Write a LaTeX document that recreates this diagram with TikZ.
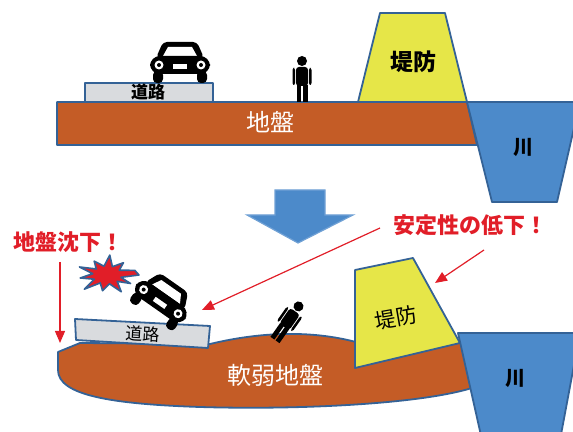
\documentclass[tikz,border=0pt]{standalone}
\usepackage{fontspec}
\newfontfamily\jp{Noto Sans CJK JP}
\usetikzlibrary{arrows.meta}

\definecolor{soil}{RGB}{196,92,38}
\definecolor{rim}{RGB}{52,98,150}
\definecolor{water}{RGB}{76,138,202}
\definecolor{bank}{RGB}{230,230,72}
\definecolor{pave}{RGB}{217,219,222}
\definecolor{alarm}{RGB}{225,30,40}

\tikzset{
  pics/car/.style={code={
    \fill[rounded corners=2] (-17,-21) -- (17,-21) -- (24,-5) -- (-24,-5) -- cycle;
    \fill[white] (-12,-16) -- (12,-16) -- (17,-7) -- (-17,-7) -- cycle;
    \fill[rounded corners=5] (-30,-7) rectangle (30,11);
    \fill[rounded corners=2] (-27,8) rectangle (-17,20);
    \fill[rounded corners=2] (17,8) rectangle (27,20);
    \fill[white] (-21,2) circle (4.5) (21,2) circle (4.5);
    \fill (-21,2) circle (2) (21,2) circle (2);
    \fill[white] (-7,1) rectangle (7,6);
  }},
  pics/person/.style={code={
    \fill (0,-41) circle (5);
    \fill[rounded corners=1.5] (-6,-35) rectangle (6,-16);
    \fill[rounded corners=1] (-9.5,-34) rectangle (-7,-17);
    \fill[rounded corners=1] (7,-34) rectangle (9.5,-17);
    \fill (-5.5,-17) rectangle (-0.7,0);
    \fill (0.7,-17) rectangle (5.5,0);
  }}
}

\begin{document}
\begin{tikzpicture}[x=0.5pt,y=-0.5pt,
  edge/.style={draw=rim,line width=0.9pt,line join=round},
  darklbl/.style={font=\jp\bfseries\fontsize{#1}{#1}\selectfont,text=black},
  soillbl/.style={font=\jp\fontsize{12}{12}\selectfont,text=white},
  redlbl/.style={font=\jp\bfseries\fontsize{11}{11}\selectfont,text=alarm},
  alert/.style={draw=alarm,line width=0.6pt,-{Triangle[length=6pt,width=5pt]}}]
\useasboundingbox (0,0) rectangle (573,432);

% Before: road, ground, levee and river
\fill[soil,edge] (57,102) -- (467,102) -- (477,145) -- (57,145) -- cycle;
\fill[pave,edge] (85,83) rectangle (213,102);
\fill[bank,edge] (380,13) -- (445,13) -- (467,102) -- (358,102) -- cycle;
\fill[water,edge] (467,102) -- (580,102) -- (557,202) -- (492,202) -- cycle;
\pic at (180,63) {car};
\pic at (302,102) {person};

\node[darklbl=8.5] (road1) at (148,92) {道路};
\node[soillbl] (soil1) at (270,122) {地盤};
\node[darklbl=11.5] (bank1) at (413,62) {堤防};
\node[darklbl=10] (river1) at (523,147) {川};

% Block arrow between the two states
\fill[water,draw=water!80!white,line width=0.6pt]
  (275,190) -- (325,190) -- (325,215) -- (353,215) -- (298,243)
  -- (247,215) -- (275,215) -- cycle;

% After: soft ground sinking
\fill[soil,edge] (58,352) -- (80,343) -- (210,344)
  .. controls (260,332) and (310,330) .. (356,342) -- (460,340)
  -- (472,388) .. controls (420,404) and (300,410) .. (200,407)
  .. controls (110,404) and (58,395) .. (58,370) -- cycle;
\fill[pave,edge] (75,319) -- (210,326) -- (208,348) -- (76,340) -- cycle;
\fill[bank,edge] (355,270) -- (413,258) -- (460,343) -- (355,368) -- cycle;
\fill[water,edge] (458,333) -- (580,333) -- (560,440) -- (482,440) -- cycle;

% Crash burst
\fill[alarm,draw=rim,line width=0.8pt,line join=round,xscale=1.6,shift={(107/1.6,275)}]
  (0:20) \foreach \a/\r in {15/9,30/17,45/9,62/19,80/9,100/16,118/9,
    135/20,152/9,170/17,188/9,205/19,222/9,240/16,258/9,275/20,
    292/9,310/16,328/9,345/18} { -- (\a:\r) } -- cycle;

\pic[rotate=-35] at (162,300) {car};
\pic[rotate=-35] at (275,340) {person};

\node[font=\jp\fontsize{8.5}{8.5}\selectfont,rotate=-3] (road2) at (143,334) {道路};
\node[soillbl] (soil2) at (275,375) {軟弱地盤};
\node[font=\jp\fontsize{10.5}{10.5}\selectfont,rotate=10] (bank2) at (396,318) {堤防};
\node[darklbl=10] (river2) at (515,378) {川};

% Warnings
\node[redlbl] (sink) at (68,242) {地盤沈下！};
\node[redlbl] (unstable) at (470,225) {安定性の低下！};
\coordinate (sinkfrom) at (60,262);
\coordinate (sinkto) at (60,343);
\coordinate (roadfrom) at (380,228);
\coordinate (roadto) at (202,310);
\coordinate (bankfrom) at (484,250);
\coordinate (bankto) at (435,283);
\draw[alert] (sinkfrom) -- (sinkto);
\draw[alert] (roadfrom) -- (roadto);
\draw[alert] (bankfrom) -- (bankto);

\end{tikzpicture}
\end{document}
